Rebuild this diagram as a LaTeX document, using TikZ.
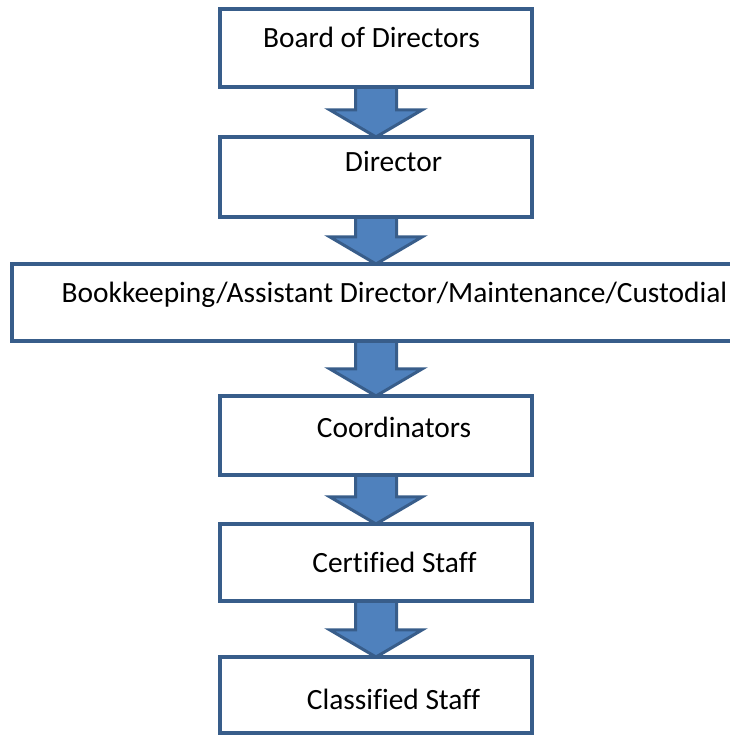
\documentclass[tikz,border=0pt]{standalone}
\usepackage{fontspec}
\setmainfont{Carlito}[Ligatures=NoCommon]
\usetikzlibrary{calc}
\definecolor{edgeblue}{HTML}{385D8A}
\definecolor{fillblue}{HTML}{4F81BD}
\pgfdeclarelayer{background}
\pgfsetlayers{background,main}
\tikzset{
  orgbox/.style={draw=edgeblue, fill=white, line width=4.5pt, rectangle, inner sep=0pt, outer sep=0pt},
  orgtext/.style={anchor=base, inner sep=0pt, font=\fontsize{29.4}{35}\selectfont},
  blockarrow/.style={draw=edgeblue, fill=fillblue, line width=3pt, line join=miter}
}
\newcommand{\orgarrow}[2]{%
  \begin{pgfonlayer}{background}
  \path[blockarrow] ($(axis |- #1.south)+(-20.5,0)$) -- ($(axis |- #2.north)+(-20.5,27)$) -- ($(axis |- #2.north)+(-46,27)$)
    -- (axis |- #2.north) -- ($(axis |- #2.north)+(46,27)$) -- ($(axis |- #2.north)+(20.5,27)$) -- ($(axis |- #1.south)+(20.5,0)$) -- cycle;
  \end{pgfonlayer}}
\begin{document}
\begin{tikzpicture}[x=1pt,y=1pt]
  \useasboundingbox (0,0) rectangle (730,736);
  \clip (0,0) rectangle (730,736);
  \coordinate (axis) at (376,0);
  % boxes (y measured upward: 736 - image y)
  \node[orgbox, minimum width=312pt, minimum height=78pt] (b1) at (376,688) {};
  \node[orgbox, minimum width=312pt, minimum height=80pt] (b2) at (376,559) {};
  \node[orgbox, minimum width=738pt, minimum height=77pt] (b3) at (381,433.5) {};
  \node[orgbox, minimum width=312pt, minimum height=79pt] (b4) at (376,300.5) {};
  \node[orgbox, minimum width=312pt, minimum height=77pt] (b5) at (376,173.5) {};
  \node[orgbox, minimum width=312pt, minimum height=76pt] (b6) at (376,41) {};
  % texts
  \node[orgtext] (t1) at (371.5,688) {Board of Directors};
  \node[orgtext] (t2) at (393.5,564) {Director};
  \node[orgtext] (t3) at (394.5,433) {Bookkeeping/Assistant Director/Maintenance/Custodial};
  \node[orgtext] (t4) at (394,298) {Coordinators};
  \node[orgtext] (t5) at (394.5,163) {Certified Staff};
  \node[orgtext] (t6) at (393.5,26) {Classified Staff};
  % arrows
  \orgarrow{b1}{b2}
  \orgarrow{b2}{b3}
  \orgarrow{b3}{b4}
  \orgarrow{b4}{b5}
  \orgarrow{b5}{b6}
\end{tikzpicture}
\end{document}
